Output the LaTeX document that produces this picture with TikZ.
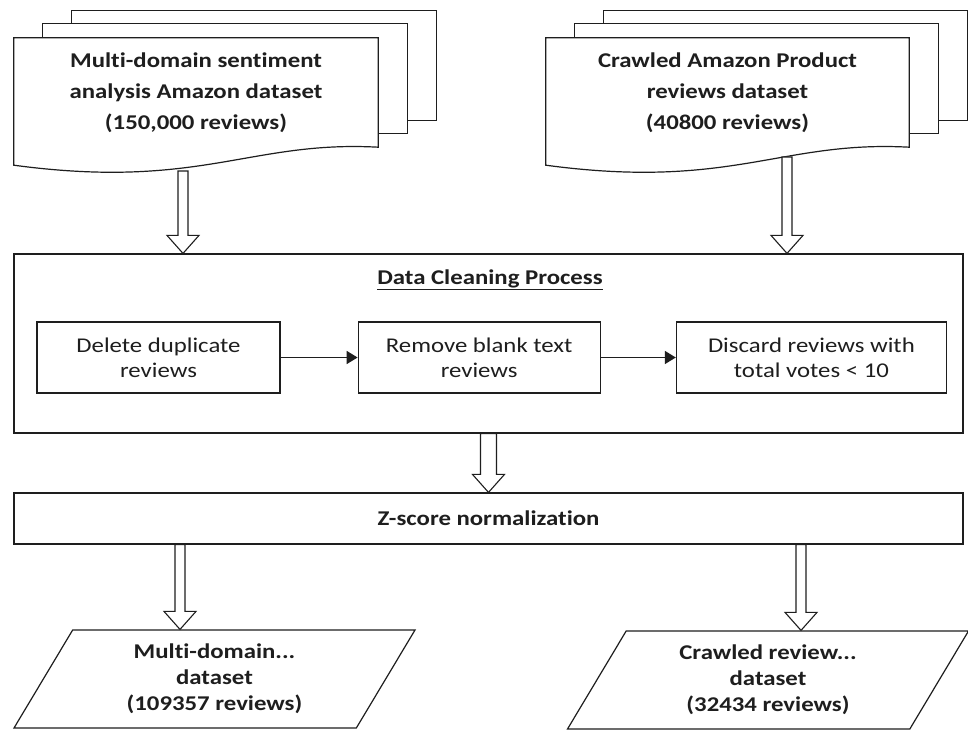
\documentclass[tikz,border=0pt]{standalone}
\usepackage{fontspec}
\setmainfont{Carlito}[FakeStretch=1.18, Ligatures=CommonOff]
\usetikzlibrary{
  positioning, calc,
  arrows.meta, shapes.geometric
}
\pgfdeclarelayer{bg}
\pgfsetlayers{bg,main}
\definecolor{ink}{HTML}{1E1E1E}

\tikzset{
  page/.style={draw=ink, fill=white, line width=1.2pt},
  doc/.style={minimum width=364, minimum height=109, inner sep=0pt, align=center,
    text=ink, font=\fontsize{21}{31}\selectfont\bfseries},
  frame/.style={draw=ink, line width=1.2pt, inner sep=0pt, minimum width=949},
  stepbox/.style={draw=ink, line width=1.2pt, inner sep=0pt, minimum height=71, align=center,
    text=ink, font=\fontsize{21}{25}\selectfont},
  outdata/.style={trapezium, trapezium left angle=50, trapezium right angle=130,
    trapezium stretches body, draw=ink, line width=1.2pt, inner sep=0pt,
    minimum width=401, minimum height=98, align=center,
    text=ink, font=\fontsize{21}{26}\selectfont\bfseries},
  flow/.style={draw=ink, line width=1.6pt, -{Triangle[length=11pt,width=13pt]}},
  hollow/.style={draw=ink, fill=white, line width=1.1pt,
    to path={let \p1=(\tikztostart), \p2=(\tikztotarget) in
      (\x1-#1,\y1) -- (\x1-#1,\y2+18pt) -- (\x1-16pt,\y2+18pt) -- (\x1,\y2)
      -- (\x1+16pt,\y2+18pt) -- (\x1+#1,\y2+18pt) -- (\x1+#1,\y1) -- cycle}},
  hollow/.default=5pt
}

\begin{document}
\begin{tikzpicture}[x=1pt, y=-1pt]
  \useasboundingbox (0,0) rectangle (968,730);

  % input datasets
  \node[doc] (multi) at (196,92.5) {Multi-domain sentiment\\analysis Amazon dataset\\(150,000 reviews)};
  \node[doc, minimum width=363] (crawled) at (727.5,92.5) {Crawled Amazon Product\\reviews dataset\\(40800 reviews)};

  \begin{pgfonlayer}{bg}
    \fill[white] (0,0) rectangle (968,730);
    \foreach \doc in {multi, crawled} {
      \foreach \dx/\dy in {58/-27, 29/-14}
        \draw[page] ([shift={(\dx,\dy)}]\doc.north west) rectangle ([shift={(\dx,\dy)}]\doc.south east);
      \draw[page] (\doc.north west) -- (\doc.north east) -- (\doc.south east)
        .. controls ($(\doc.south east)+(-128,-7)$) and ($(\doc.south west)+(186,43)$)
        .. ($(\doc.south west)+(0,18)$) -- cycle;
    }
  \end{pgfonlayer}

  % cleaning
  \node[frame, minimum height=179] (clean) at (488.5,343.5) {};
  \node[text=ink, font=\fontsize{21}{25}\selectfont\bfseries] (ctitle) at (490,280) {\underline{Data Cleaning Process}};
  \node[stepbox, minimum width=243] (step1) at (158.5,357.5) {Delete duplicate\\reviews};
  \node[stepbox, minimum width=242, right=77pt of step1] (step2) {Remove blank text\\reviews};
  \node[stepbox, minimum width=270, right=75pt of step2] (step3) {Discard reviews with\\total votes < 10};
  \draw[flow] (step1) -- (step2);
  \draw[flow] (step2) -- (step3);

  % normalisation
  \node[frame, minimum height=51, text=ink, font=\fontsize{21}{25}\selectfont\bfseries] (zscore) at (488.5,518.5) {Z-score normalization};

  % outputs
  \node[outdata] (outmulti) at (214.5,679) {Multi-domain...\\dataset\\(109357 reviews)};
  \node[outdata] (outcrawled) at (768,680) {Crawled review...\\dataset\\(32434 reviews)};

  \coordinate (a1) at (183,171);
  \coordinate (a2) at (787,157);
  \coordinate (b1) at (180,0);
  \coordinate (b2) at (801,0);
  \path[hollow] (a1) to (a1 |- clean.north);
  \path[hollow] (a2) to (a2 |- clean.north);
  \path[hollow=8pt] (clean.south) to (zscore.north);
  \path[hollow] (zscore.south -| b1) to (outmulti.north -| b1);
  \path[hollow] (zscore.south -| b2) to (outcrawled.north -| b2);
\end{tikzpicture}
\end{document}
